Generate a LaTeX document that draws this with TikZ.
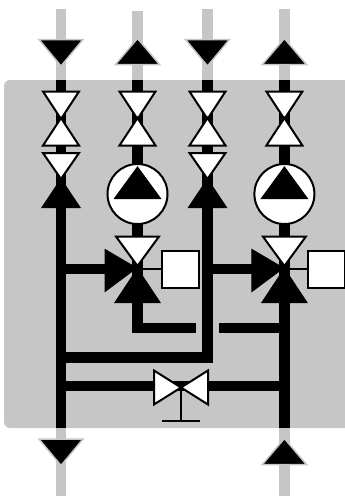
\documentclass[tikz,border=0pt]{standalone}
\usetikzlibrary{calc}
\definecolor{panel}{HTML}{C6C6C6}
\tikzset{
  gpipe/.style={draw=panel,line width=10.6pt},
  bpipe/.style={draw=black,line width=10.6pt},
  hpipe/.style={draw=black,line width=9.6pt},
  flowarrow/.style={fill=black,draw=panel,line width=1.5pt,line join=miter},
  valvewhite/.style={fill=white,draw=black,line width=2pt,line join=miter},
  valveblack/.style={fill=black,draw=black,line width=1pt,line join=miter},
  pumpcircle/.style={circle,fill=white,draw=black,line width=2pt,minimum size=60pt,inner sep=0pt},
  actuator/.style={rectangle,fill=white,draw=black,line width=2pt,minimum size=37pt,inner sep=0pt},
  thinline/.style={draw=black,line width=1.8pt}
}
\newcommand{\vtri}[5]{\path[#5] (#1-#4,#2) -- (#1+#4,#2) -- (#1,#3) -- cycle;}
\begin{document}
\begin{tikzpicture}[x=1pt,y=-1pt]
\useasboundingbox (0,0) rectangle (345,496);
% panel
\fill[panel,rounded corners=6pt] (352,80) -- (4,80) -- (4,428) -- (352,428) -- cycle;
% free pipe ends
\coordinate (a0) at (61,9);    \coordinate (a1) at (61,80);   \coordinate (a2) at (61,428);  \coordinate (a3) at (61,496);
\coordinate (b0) at (137.5,11);\coordinate (b1) at (137.5,80);\coordinate (b2) at (137.5,328);
\coordinate (c0) at (207.5,9); \coordinate (c1) at (207.5,80);\coordinate (c2) at (207.5,357.5);
\coordinate (d0) at (284.4,9); \coordinate (d1) at (284.4,80);\coordinate (d2) at (284.4,428);\coordinate (d3) at (284.4,496);
\coordinate (bend) at (196,328);
\coordinate (e0) at (219,328); \coordinate (e1) at (284.4,328);
\coordinate (f0) at (61,357.5);
\coordinate (g0) at (61,386);  \coordinate (g1) at (284.4,386);
\coordinate (h0) at (61,269);  \coordinate (h1) at (107,269);
\coordinate (i0) at (207.5,269);\coordinate (i1) at (253,269);
% grey pipes
\draw[gpipe] (a0) -- (a1);
\draw[gpipe] (b0) -- (b1);
\draw[gpipe] (c0) -- (c1);
\draw[gpipe] (d0) -- (d1);
\draw[gpipe] (a2) -- (a3);
\draw[gpipe] (d2) -- (d3);
% black pipes
\draw[bpipe] (a1) -- (a2);
\draw[bpipe] (b1) -- ($(b2)+(0,5.3)$);
\draw[bpipe] (c1) -- ($(c2)+(0,5.3)$);
\draw[bpipe] (d1) -- (d2);
\draw[bpipe] ($(b2)+(-5.3,0)$) -- (bend);
\draw[bpipe] (e0) -- (e1);
\draw[bpipe] (f0) -- ($(c2)+(5.3,0)$);
\draw[hpipe] (g0) -- (g1);
\draw[hpipe] (h0) -- (h1);
\draw[hpipe] (i0) -- (i1);
% flow arrows
\vtri{61}{39.5}{66}{22}{flowarrow}
\vtri{137.5}{64.5}{38.5}{22}{flowarrow}
\vtri{207.5}{39.5}{66}{22}{flowarrow}
\vtri{284.4}{64.5}{38.5}{22}{flowarrow}
\vtri{61}{439}{465.5}{22}{flowarrow}
\vtri{284.4}{464.5}{438.5}{22}{flowarrow}
% shut-off valves
\foreach \x in {61,137.5,207.5,284.4}{
  \vtri{\x}{91.5}{119}{18}{valvewhite}
  \vtri{\x}{145.5}{118}{18}{valvewhite}
}
% left non-return pairs
\foreach \x in {61,207.5}{
  \vtri{\x}{153}{179}{18}{valvewhite}
  \vtri{\x}{207.5}{179}{19}{valveblack}
}
% pumps
\foreach \x/\n in {137.5/p1,284.4/p2}{
  \node[pumpcircle] (\n) at (\x,194) {};
  \vtri{\x}{198.5}{167}{23}{valveblack}
}
% mixing valves
\node[actuator] (s1) at (180.5,269) {};
\node[actuator] (s2) at (326.5,269) {};
\foreach \x/\s in {137.5/s1,284.4/s2}{
  \coordinate (m\s) at (\x,269);
  \draw[thinline] (m\s) -- (\s.west);
  \vtri{\x}{236.5}{266}{21.5}{valvewhite}
  \vtri{\x}{302.5}{268.5}{22.5}{valveblack}
  \path[valveblack] (\x-32.5,249.5) -- (\x-32.5,291.5) -- (\x-1,268) -- cycle;
}
% bypass valve
\coordinate (bv) at (181,387.5);
\coordinate (bvb) at (181,421);
\coordinate (bvl) at (162,421);
\coordinate (bvr) at (200,421);
\draw[thinline] (bv) -- (bvb);
\draw[thinline] (bvl) -- (bvr);
\path[valvewhite] (154,370.5) -- (154,404.5) -- (bv) -- cycle;
\path[valvewhite] (208,370.5) -- (208,404.5) -- (bv) -- cycle;
\end{tikzpicture}
\end{document}
